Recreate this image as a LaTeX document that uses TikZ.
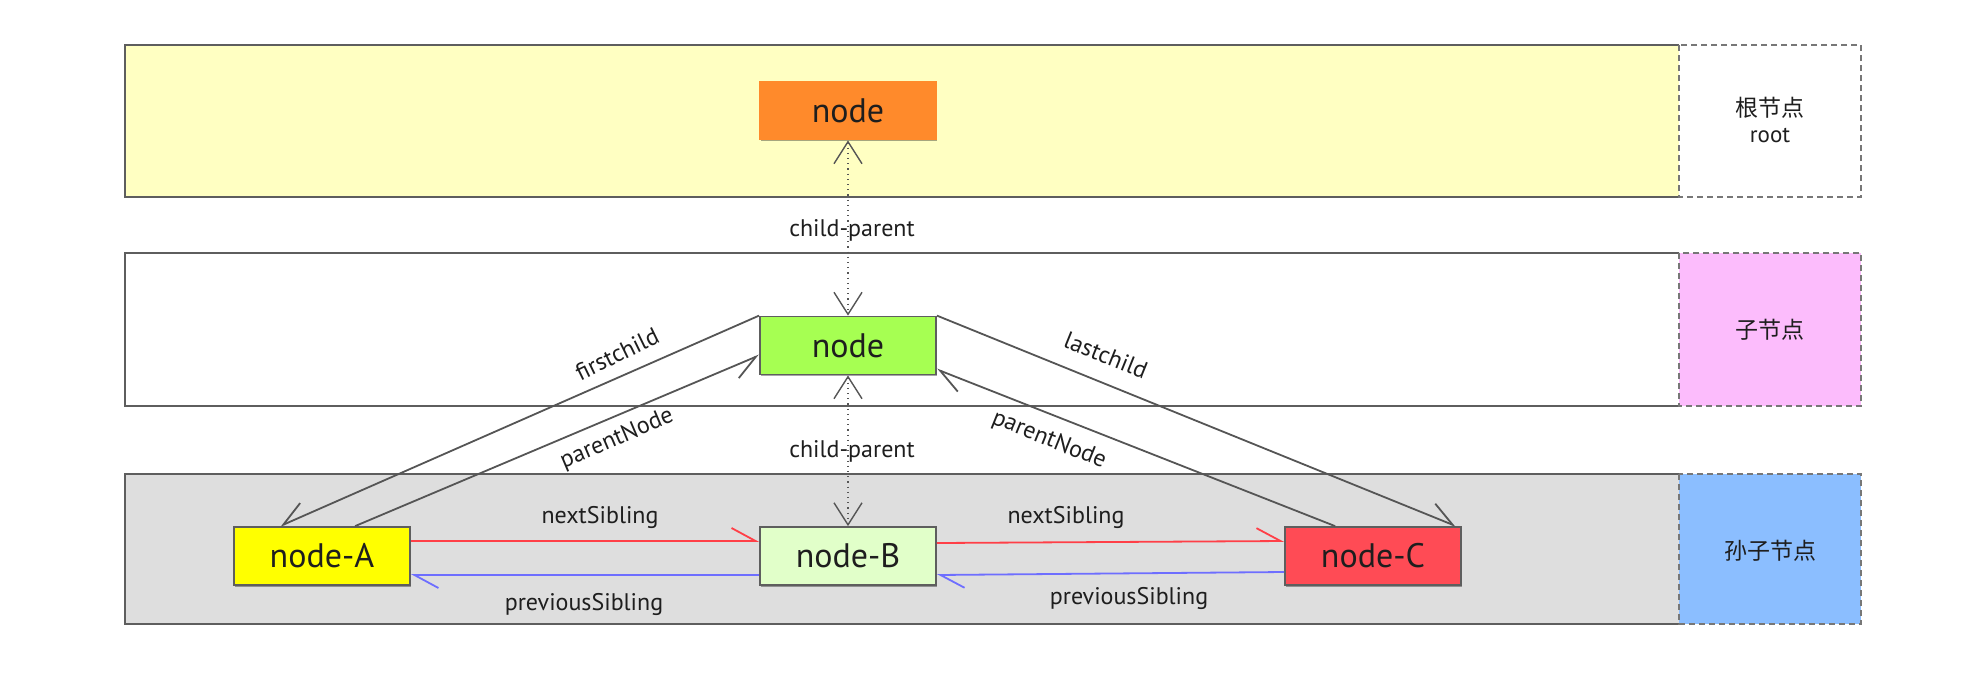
\documentclass[tikz,border=0pt]{standalone}
\usepackage{fontspec}
\setmainfont{PT Sans}
\newfontfamily\cjkfont{Noto Sans CJK SC}
\usetikzlibrary{arrows.meta,calc,shadows}
\definecolor{bandline}{HTML}{5E5E5E}
\definecolor{legline}{HTML}{777777}
\definecolor{yellowband}{HTML}{FFFFC2}
\definecolor{greyband}{HTML}{DEDEDE}
\definecolor{pinkleg}{HTML}{FCBCFC}
\definecolor{blueleg}{HTML}{8BBEFF}
\definecolor{rootorange}{HTML}{FF8A2B}
\definecolor{midgreen}{HTML}{A6FF52}
\definecolor{ayellow}{HTML}{FFFF00}
\definecolor{bgreen}{HTML}{E1FFC9}
\definecolor{cred}{HTML}{FF4B55}
\definecolor{connc}{HTML}{555555}
\definecolor{nextred}{HTML}{FF3F47}
\definecolor{prevblue}{HTML}{6E6EFF}
\definecolor{txt}{HTML}{1E1E1E}
\tikzset{
  bandedge/.style={draw=bandline, line width=1.2pt},
  legedge/.style={draw=legline, line width=1.1pt, dash pattern=on 3pt off 2pt},
  nodebox/.style={draw=bandline, line width=0.9pt, minimum width=88pt, minimum height=29pt,
    inner sep=0pt, font=\fontsize{17}{20}\selectfont, text=txt,
    drop shadow={shadow xshift=0.6pt, shadow yshift=-0.8pt, fill=black, opacity=0.35}},
  lbl/.style={font=\fontsize{12}{14}\selectfont, text=txt, inner sep=0pt},
  leglbl/.style={font=\cjkfont\fontsize{11.5}{14}\selectfont, text=txt, inner sep=0pt, align=center},
  dotarrow/.style={draw=connc, line width=0.6pt, dotted,
    {Straight Barb[length=11pt, width=14pt, line width=0.7pt]}-{Straight Barb[length=11pt, width=14pt, line width=0.7pt]}},
  conn/.style={draw=connc, line width=0.9pt},
  harpL/.style={-{Straight Barb[harpoon, length=12pt, width=13pt, line width=0.9pt]}},
  harpR/.style={-{Straight Barb[harpoon, swap, length=12pt, width=13pt, line width=0.9pt]}},
  nextc/.style={draw=nextred, line width=0.9pt},
  prevc/.style={draw=prevblue, line width=0.9pt},
}
\begin{document}
\begin{tikzpicture}[x=0.5pt,y=-0.5pt]
\useasboundingbox (0,0) rectangle (1982,676);
% bands
\fill[yellowband] (125,45) rectangle (1679,197);
\draw[bandedge] (1679,45) -- (125,45) -- (125,197) -- (1679,197);
\filldraw[legedge, fill=white] (1679,45) rectangle (1861,197);
\fill[white] (125,253) rectangle (1679,406);
\draw[bandedge] (1679,253) -- (125,253) -- (125,406) -- (1679,406);
\filldraw[legedge, fill=pinkleg] (1679,253) rectangle (1861,406);
\fill[greyband] (125,474) rectangle (1679,624);
\draw[bandedge] (1679,474) -- (125,474) -- (125,624) -- (1679,624);
\filldraw[legedge, fill=blueleg] (1679,474) rectangle (1861,624);
% legend texts
\node[leglbl] (legroot) at (1770,120) {根节点\\[-1pt]{\rmfamily\fontsize{11.5}{13}\selectfont root}};
\node[leglbl] (legchild) at (1770,330) {子节点};
\node[leglbl] (leggrand) at (1770,551) {孙子节点};
% nodes
\node[nodebox, fill=rootorange, draw=rootorange, drop shadow={opacity=0}] (root) at (848,110.5) {node};
\node[nodebox, fill=midgreen] (mid) at (848,345.5) {node};
\node[nodebox, fill=ayellow] (A) at (322,556) {node-A};
\node[nodebox, fill=bgreen] (B) at (848,556) {node-B};
\node[nodebox, fill=cred] (C) at (1373,556) {node-C};
% child-parent
\draw[dotarrow] (root.south) -- (mid.north);
\draw[dotarrow] (mid.south) -- (B.north);
\node[lbl] (cp1) at (852,230) {child-parent};
\node[lbl] (cp2) at (852,451) {child-parent};
% first / last child, parentNode
\draw[conn, harpR] (mid.north west) -- ($(A.north west)+(47,0)$);
\draw[conn, harpR] ($(A.north west)+(122,0)$) -- ($(mid.south west)+(0,-20)$);
\draw[conn, harpL] (mid.north east) -- ($(C.north east)+(-6,0)$);
\draw[conn, harpL] ($(C.north west)+(51,0)$) -- ($(mid.south east)+(0,-6)$);
\node[lbl, rotate=26] (fc) at (617,354) {firstchild};
\node[lbl, rotate=23] (pnl) at (617,439) {parentNode};
\node[lbl, rotate=-22] (lc) at (1106,355) {lastchild};
\node[lbl, rotate=-22] (pnr) at (1049,440) {parentNode};
% siblings
\draw[nextc, harpL] ($(A.east)+(0,-15)$) -- ($(B.west)+(0,-15)$);
\draw[prevc, harpL] ($(B.west)+(0,19)$) -- ($(A.east)+(0,19)$);
\draw[nextc, harpL] ($(B.east)+(0,-13)$) -- ($(C.west)+(0,-15)$);
\draw[prevc, harpL] ($(C.west)+(0,16)$) -- ($(B.east)+(0,19)$);
\node[lbl] (ns1) at (600,517) {nextSibling};
\node[lbl] (ps1) at (584,604) {previousSibling};
\node[lbl] (ns2) at (1066,517) {nextSibling};
\node[lbl] (ps2) at (1129,598) {previousSibling};
\end{tikzpicture}
\end{document}
